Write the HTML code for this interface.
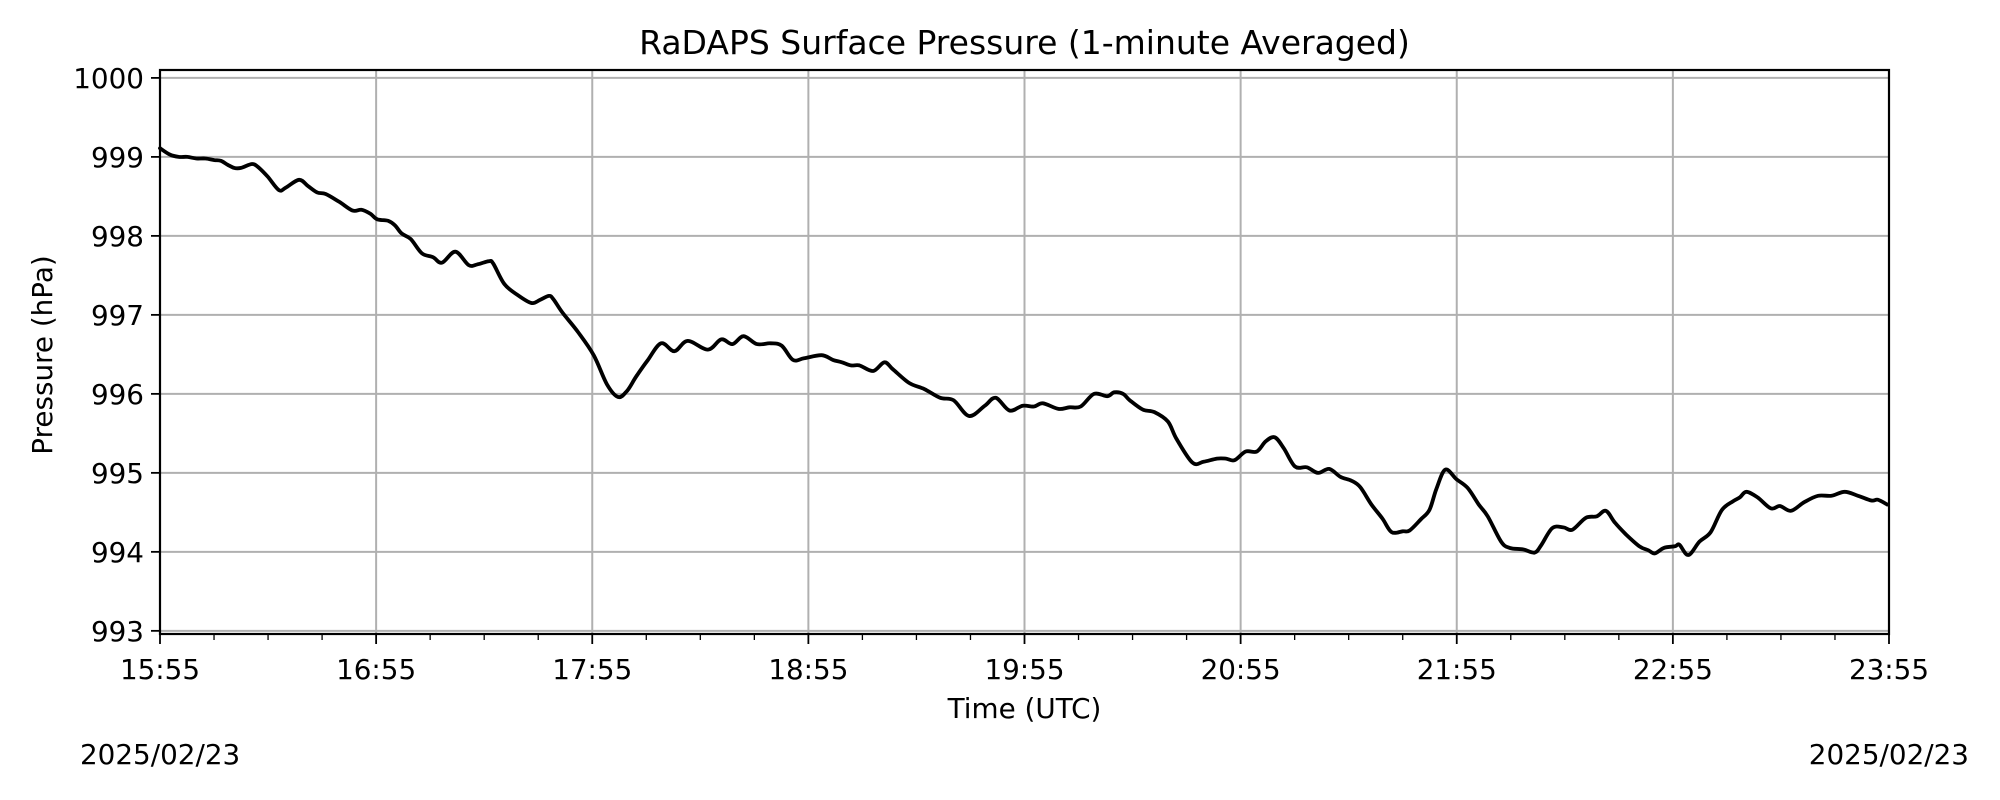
<!DOCTYPE html>
<html><head><meta charset="utf-8"><style>
html,body{margin:0;padding:0;background:#fff;}
svg{display:block;font-family:"DejaVu Sans","Liberation Sans",sans-serif;}
</style></head><body>
<svg id="chart" width="2000" height="800" viewBox="0 0 2000 800" xmlns="http://www.w3.org/2000/svg">
<rect width="2000" height="800" fill="#fff"/>
<text x="1024.5" y="54" font-size="33" text-anchor="middle">RaDAPS Surface Pressure (1-minute Averaged)</text>
<g id="grid"></g>
<g id="series"></g>
<g id="axes"></g>
<text transform="translate(52,355) rotate(-90)" font-size="27.8" text-anchor="middle">Pressure (hPa)</text>
<text x="1024.5" y="718" font-size="27.8" text-anchor="middle">Time (UTC)</text>
<text x="80" y="764" font-size="27.8">2025/02/23</text>
<text x="1969" y="764" font-size="27.8" text-anchor="end">2025/02/23</text>
</svg>
<script>
// minutes since 15:55 UTC
const minutes = [0,2.7,5.2,7.6,10.1,12.6,15.1,16.9,18.8,20.6,22.5,25.6,27.5,29.9,33.0,34.9,38.6,41.1,43.6,46.0,49.8,53.5,55.9,58.4,60.3,63.4,65.3,67.1,69.6,72.7,75.8,78.3,82.0,85.7,88.2,91.3,92.5,95.6,99.3,103.1,105.5,108.0,109.2,111.7,116.1,120.4,124.1,127.2,129.7,132.2,135.3,139.1,142.8,146.5,152.1,155.8,158.9,162.0,165.7,169.5,172.6,175.7,178.8,183.7,186.8,189.3,191.8,194.2,198.0,201.1,203.5,207.9,212.2,216.6,220.3,224.6,229.0,232.0,235.8,239.5,242.6,245.1,249.4,252.5,255.6,259.3,263.0,264.9,267.4,269.2,272.9,276.0,279.8,282.2,286.6,289.7,293.4,295.9,298.3,301.4,304.5,307.0,309.5,312.0,315.1,318.4,321.5,324.6,327.7,330.8,333.2,336.3,339.4,341.9,345.0,346.9,350.0,352.4,354.3,356.8,359.9,363.0,366.1,368.6,372.3,374.7,378.5,381.6,383.4,386.5,389.6,392.1,395.8,398.9,401.4,403.9,407.0,410.7,413.2,415.0,417.5,420.6,421.8,424.3,427.4,430.5,433.6,436.7,438.6,440.4,443.5,447.2,449.7,452.8,456.5,460.3,464.0,467.7,471.4,475.1,476.9,479.5];
const pressure = [999.11,999.03,999.00,999.00,998.98,998.98,998.96,998.95,998.90,998.86,998.86,998.91,998.86,998.75,998.58,998.61,998.71,998.63,998.55,998.53,998.43,998.32,998.33,998.28,998.21,998.19,998.13,998.03,997.96,997.78,997.73,997.66,997.80,997.63,997.64,997.68,997.65,997.39,997.25,997.15,997.19,997.24,997.20,997.03,996.78,996.49,996.12,995.96,996.04,996.22,996.42,996.64,996.54,996.67,996.56,996.69,996.63,996.73,996.63,996.64,996.61,996.43,996.45,996.49,996.43,996.40,996.36,996.36,996.29,996.40,996.31,996.14,996.06,995.95,995.92,995.72,995.85,995.95,995.79,995.85,995.84,995.88,995.81,995.83,995.84,996.00,995.97,996.02,996.00,995.92,995.80,995.77,995.65,995.43,995.13,995.14,995.18,995.18,995.16,995.27,995.27,995.40,995.45,995.31,995.08,995.07,995.00,995.05,994.95,994.90,994.82,994.60,994.42,994.25,994.26,994.27,994.41,994.53,994.79,995.04,994.92,994.81,994.60,994.45,994.13,994.05,994.03,993.99,994.08,994.30,994.31,994.28,994.43,994.45,994.52,994.37,994.22,994.07,994.02,993.98,994.05,994.07,994.09,993.96,994.13,994.25,994.53,994.64,994.69,994.76,994.69,994.55,994.58,994.52,994.63,994.71,994.71,994.76,994.71,994.65,994.66,994.60];
const yTicks = [993,994,995,996,997,998,999,1000];
const xTickMinutes = [0,60,120,180,240,300,360,420,480];
const xTickLabels = ["15:55","16:55","17:55","18:55","19:55","20:55","21:55","22:55","23:55"];

const NS = "http://www.w3.org/2000/svg";
const L = 160, R = 1889, T = 70, B = 634;
const xMin = 0, xMax = 480, yMin = 992.96, yMax = 1000.10;
const xs = m => L + (m - xMin) / (xMax - xMin) * (R - L);
const ys = v => B - (v - yMin) / (yMax - yMin) * (B - T);
function mk(tag, attrs, parent){ const e = document.createElementNS(NS, tag); for (const k in attrs) e.setAttribute(k, attrs[k]); parent.appendChild(e); return e; }
const grid = document.getElementById('grid'), axes = document.getElementById('axes'), series = document.getElementById('series');

yTicks.forEach((v, i) => {
  const y = ys(v);
  const g = mk('line', {x1:L, x2:R, y1:y, y2:y, stroke:'#b0b0b0', 'stroke-width':2}, grid);
  
  
  const t = mk('line', {x1:L-9, x2:L, y1:y, y2:y, stroke:'#000', 'stroke-width':1.8}, axes);
  
  
  const lb = mk('text', {x:L-16, y:y+10, 'font-size':27.8, 'text-anchor':'end'}, axes);
  
  
  lb.textContent = String(v);
});
xTickMinutes.forEach((m, i) => {
  const x = xs(m);
  const g = mk('line', {x1:x, x2:x, y1:T, y2:B, stroke:'#b0b0b0', 'stroke-width':2}, grid);
  
  
  const t = mk('line', {x1:x, x2:x, y1:B, y2:B+10, stroke:'#000', 'stroke-width':1.8}, axes);
  
  
  const lb = mk('text', {x:x, y:679, 'font-size':27.8, 'text-anchor':'middle'}, axes);
  
  
  lb.textContent = xTickLabels[i];
});
for (let m = 15; m < 480; m += 15) {
  if (m % 60 === 0) continue;
  const x = xs(m);
  const t = mk('line', {x1:x, x2:x, y1:B, y2:B+6, stroke:'#000', 'stroke-width':1.3}, axes);
  
  
}
const frame = mk('rect', {x:L, y:T, width:R-L, height:B-T, fill:'none', stroke:'#000', 'stroke-width':2.2}, axes);



const P = minutes.map((m, i) => [xs(m), ys(pressure[i])]);
let d = 'M' + P[0][0].toFixed(1) + ',' + P[0][1].toFixed(1);
for (let i = 0; i < P.length - 1; i++) {
  const p0 = P[Math.max(0, i-1)], p1 = P[i], p2 = P[i+1], p3 = P[Math.min(P.length-1, i+2)];
  const c1x = p1[0] + (p2[0]-p0[0])/6, c1y = p1[1] + (p2[1]-p0[1])/6;
  const c2x = p2[0] - (p3[0]-p1[0])/6, c2y = p2[1] - (p3[1]-p1[1])/6;
  d += ' C' + c1x.toFixed(1) + ',' + c1y.toFixed(1) + ' ' + c2x.toFixed(1) + ',' + c2y.toFixed(1) + ' ' + p2[0].toFixed(1) + ',' + p2[1].toFixed(1);
}
const line = mk('path', {d:d, fill:'none', stroke:'#000', 'stroke-width':3.8, 'stroke-linejoin':'round', 'stroke-linecap':'round'}, series);


</script>
</body></html>
